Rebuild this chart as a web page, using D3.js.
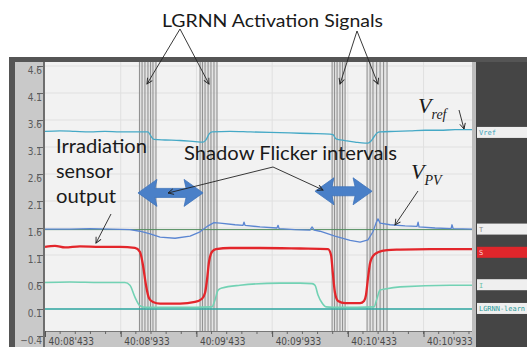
<!DOCTYPE html>
<html><head><meta charset="utf-8">
<script src="https://cdn.jsdelivr.net/npm/d3@7"></script>
<style>
html,body{margin:0;padding:0;background:#fff;}
svg{display:block;}
</style></head><body>
<svg id="chart" width="527" height="347"></svg>
<script>
// ---------------- data ----------------
const xTickValues = [0, 0.5, 1.0, 1.5, 2.0, 2.5];
const xTickLabels = ["40:08'433","40:08'933","40:09'433","40:09'933","40:10'433","40:10'933"];
const yTickValues = [-0.4, 0.1, 0.6, 1.1, 1.6, 2.1, 2.6, 3.1, 3.6, 4.1, 4.6];

const vrefT = [0,0.099,0.198,0.297,0.396,0.495,0.594,0.680,0.700,0.720,0.793,0.892,0.991,1.044,1.063,1.083,1.103,1.222,1.354,1.486,1.618,1.750,1.882,1.902,1.922,1.982,2.048,2.114,2.133,2.153,2.173,2.193,2.213,2.312,2.411,2.510,2.609,2.708,2.820];
const vrefV = [3.39,3.40,3.39,3.38,3.39,3.38,3.38,3.38,3.30,3.24,3.23,3.22,3.20,3.19,3.23,3.34,3.38,3.39,3.38,3.37,3.36,3.35,3.34,3.33,3.25,3.22,3.19,3.17,3.17,3.21,3.29,3.36,3.38,3.39,3.40,3.41,3.41,3.42,3.42];

const vpvT = [0,0.165,0.297,0.429,0.561,0.627,0.694,0.760,0.859,0.958,1.024,1.077,1.116,1.156,1.255,1.308,1.314,1.321,1.420,1.532,1.539,1.546,1.651,1.750,1.764,1.777,1.816,1.915,2.015,2.081,2.133,2.166,2.186,2.199,2.213,2.279,2.378,2.457,2.464,2.470,2.576,2.682,2.688,2.695,2.820];
const vpvV = [1.58,1.58,1.59,1.58,1.57,1.54,1.49,1.43,1.41,1.45,1.53,1.64,1.70,1.69,1.66,1.65,1.71,1.65,1.62,1.60,1.65,1.59,1.57,1.56,1.62,1.56,1.54,1.45,1.37,1.34,1.38,1.53,1.69,1.77,1.69,1.66,1.64,1.63,1.71,1.62,1.60,1.59,1.66,1.59,1.58];

const sT = [0,0.066,0.132,0.231,0.363,0.495,0.594,0.627,0.647,0.667,0.687,0.713,0.760,0.892,0.991,1.037,1.057,1.070,1.083,1.103,1.129,1.222,1.420,1.684,1.869,1.889,1.902,1.915,1.935,1.982,2.081,2.107,2.120,2.133,2.147,2.166,2.199,2.259,2.345,2.543,2.820];
const sV = [1.25,1.27,1.24,1.26,1.25,1.25,1.23,1.16,0.91,0.54,0.30,0.23,0.20,0.20,0.23,0.29,0.40,0.64,0.97,1.16,1.21,1.23,1.23,1.22,1.21,1.10,0.73,0.40,0.25,0.21,0.21,0.25,0.36,0.67,0.95,1.08,1.15,1.19,1.20,1.21,1.21];

const iT = [0,0.165,0.363,0.528,0.561,0.594,0.627,0.667,0.892,1.103,1.123,1.143,1.169,1.288,1.552,1.684,1.764,1.783,1.803,1.830,1.856,1.948,2.173,2.193,2.213,2.246,2.345,2.675,2.820];
const iV = [0.59,0.60,0.59,0.59,0.54,0.32,0.16,0.13,0.13,0.14,0.27,0.45,0.49,0.54,0.58,0.58,0.57,0.54,0.36,0.21,0.14,0.13,0.14,0.30,0.45,0.47,0.51,0.54,0.54];

const tChannelT = [0, 2.82];
const tChannelV = [1.57, 1.57];
const learnT = [0, 2.82];
const learnV = [0.1, 0.1];

const activationBursts = [
  [0.624,0.641,0.660,0.680,0.697,0.713,0.733],
  [1.024,1.040,1.057,1.077,1.096,1.116,1.136],
  [1.896,1.912,1.929,1.948,1.965,1.982],
  [2.127,2.147,2.166,2.190,2.213,2.236,2.259]
];

const channelNames = ["Vref","T","S","I","LGRNN-learn"];
const channelLabelValues = [3.37, 1.58, 1.15, 0.55, 0.11];

// ---------------- layout ----------------
const svg = d3.select("#chart");
const W = 527, H = 347;
const plot = {left:45, right:472, top:62, bottom:331};
const x = d3.scaleLinear().domain([0, 2.82]).range([45, 472]);
const y = d3.scaleLinear().domain([-0.4, 4.6]).range([336, 66]);

const narrow = "'Liberation Sans Narrow','DejaVu Sans Condensed','Arial Narrow',sans-serif";
const annoFont = "Lato, 'Open Sans', sans-serif";

// defs
const defs = svg.append("defs");
defs.append("clipPath").attr("id","pc").append("rect")
  .attr("x",plot.left).attr("y",plot.top).attr("width",plot.right-plot.left).attr("height",plot.bottom-plot.top);
defs.append("marker").attr("id","arr").attr("viewBox","0 0 10 10").attr("refX",9).attr("refY",5)
  .attr("markerWidth",7).attr("markerHeight",7).attr("markerUnits","userSpaceOnUse").attr("orient","auto")
  .append("path").attr("d","M1,1 L9,5 L1,9").attr("fill","none").attr("stroke","#222").attr("stroke-width",1.3);

// frame of the screenshot
svg.append("rect").attr("x",0).attr("y",0).attr("width",W).attr("height",H).attr("fill","#fff");
svg.append("rect").attr("x",9).attr("y",57).attr("width",W-9).attr("height",H-57).attr("fill","#555");
svg.append("rect").attr("x",15).attr("y",62).attr("width",30).attr("height",H-62).attr("fill","#c9c9c9");
svg.append("rect").attr("x",472).attr("y",62).attr("width",4).attr("height",H-62).attr("fill","#bdbdbd");
svg.append("rect").attr("x",476).attr("y",62).attr("width",W-476).attr("height",H-62).attr("fill","#454545");
svg.append("rect").attr("x",plot.left).attr("y",plot.top).attr("width",plot.right-plot.left).attr("height",plot.bottom-plot.top).attr("fill","#f2f2f2");
svg.append("rect").attr("x",44).attr("y",plot.bottom).attr("width",plot.right-44).attr("height",H-plot.bottom).attr("fill","#c6c6c6");

// grid
const grid = svg.append("g").attr("clip-path","url(#pc)");
grid.selectAll("line.h").data(yTickValues).join("line")
  .attr("x1",plot.left).attr("x2",plot.right).attr("y1",d=>y(d)).attr("y2",d=>y(d))
  .attr("stroke","#e0e0e0").attr("stroke-width",1);
grid.selectAll("line.v").data(xTickValues.slice(1)).join("line")
  .attr("y1",plot.top).attr("y2",plot.bottom).attr("x1",d=>x(d)).attr("x2",d=>x(d))
  .attr("stroke","#e0e0e0").attr("stroke-width",1);

// activation bursts
const act = svg.append("g").attr("clip-path","url(#pc)");
activationBursts.forEach(b=>{
  act.append("rect").attr("x",x(b[0])).attr("y",plot.top).attr("width",x(b[b.length-1])-x(b[0])).attr("height",plot.bottom-plot.top)
    .attr("fill","#d6d6d6").attr("opacity",0.5);
  act.selectAll(null).data(b).join("line")
    .attr("x1",d=>x(d)).attr("x2",d=>x(d)).attr("y1",plot.top).attr("y2",plot.bottom)
    .attr("stroke","#929292").attr("stroke-width",1.1);
});

// series
const lines = svg.append("g").attr("clip-path","url(#pc)");
function series(ts, vs, color, w, curve){
  const pts = ts.map((t,i)=>[t, vs[i]]);
  lines.append("path").datum(pts)
    .attr("d", d3.line().x(d=>x(d[0])).y(d=>y(d[1])).curve(curve||d3.curveMonotoneX))
    .attr("fill","none").attr("stroke",color).attr("stroke-width",w).attr("stroke-linejoin","round");
}
series(learnT, learnV, "#2fa7a2", 1.6, d3.curveLinear);
series(tChannelT, tChannelV, "#4f8c5c", 1, d3.curveLinear);
series(iT, iV, "#72d2b4", 1.6);
series(vpvT, vpvV, "#5b86d2", 1.3, d3.curveLinear);
series(vrefT, vrefV, "#45a9c6", 1.3);
series(sT, sV, "#e3262b", 2.3);

// y axis
const ya = svg.append("g").attr("transform","translate(44,0)")
  .call(d3.axisLeft(y).tickValues(yTickValues).tickFormat(d3.format(".1f")).tickSize(6).tickPadding(2));
ya.select(".domain").remove();
ya.selectAll(".tick line").attr("stroke","#666").attr("x2",-1).attr("x1",-7);
ya.selectAll(".tick text").attr("x",-2).attr("dy","0.7em").attr("fill","#5a5a5a")
  .style("font-family",narrow).style("font-size","10px");
svg.append("line").attr("x1",44).attr("x2",44).attr("y1",plot.top).attr("y2",H).attr("stroke","#333").attr("stroke-width",1.2);

// x axis
svg.append("line").attr("x1",44).attr("x2",plot.right).attr("y1",plot.bottom+0.5).attr("y2",plot.bottom+0.5).attr("stroke","#777");
const minor = d3.range(0, 2.81, 0.1);
svg.selectAll("line.mt").data(minor).join("line")
  .attr("x1",d=>x(d)).attr("x2",d=>x(d)).attr("y1",plot.bottom).attr("y2",plot.bottom+3)
  .attr("stroke","#666");
const xa = svg.append("g").attr("transform",`translate(0,${plot.bottom})`)
  .call(d3.axisBottom(x).tickValues(xTickValues).tickFormat((d,i)=>xTickLabels[i]).tickSize(6).tickPadding(0));
xa.select(".domain").remove();
xa.selectAll(".tick line").attr("stroke","#555");
xa.selectAll(".tick text").attr("text-anchor","start").attr("x",3).attr("y",0).attr("dy","13.5px")
  .attr("fill","#4a4a4a").style("font-family",narrow).style("font-size","10px");

// right panel channel labels
const boxes = svg.append("g");
const boxText = ["#3a9fb8","#8a8a8a","#ffd6d6","#6cc0a8","#2a9a9a"];
channelNames.forEach((n,i)=>{
  const cy = y(channelLabelValues[i]);
  boxes.append("rect").attr("x",477).attr("y",cy-5.5).attr("width",50).attr("height",11)
    .attr("fill", n==="S" ? "#e0262b" : "#efefef");
  const t = boxes.append("text").attr("x",479).attr("y",cy+3).text(n)
    .attr("fill",boxText[i]).style("font-family","'DejaVu Sans Mono',monospace").style("font-size","7px");
  if (n.length > 6) t.attr("textLength",46).attr("lengthAdjust","spacingAndGlyphs");
});

// ---------------- annotations ----------------
const anno = svg.append("g");
function txt(s, xx, yy, size, width){
  anno.append("text").attr("x",xx).attr("y",yy).text(s)
    .attr("textLength",width).attr("lengthAdjust","spacingAndGlyphs")
    .style("font-family",annoFont).style("font-weight","400").style("font-size",size+"px").attr("fill","#1a1a1a");
}
txt("LGRNN Activation Signals", 162, 27, 17.5, 221);
txt("Irradiation", 56, 153, 19.5, 91);
txt("sensor", 56, 178, 19.5, 57);
txt("output", 56, 203, 19.5, 60);
txt("Shadow Flicker intervals", 184, 160, 19.5, 213);

function pointer(x1,y1,x2,y2){
  anno.append("line").attr("x1",x1).attr("y1",y1).attr("x2",x2).attr("y2",y2)
    .attr("stroke","#222").attr("stroke-width",0.9).attr("marker-end","url(#arr)");
}
pointer(180,29,147,84); pointer(180,29,209,84);
pointer(357,31,340,84); pointer(357,31,378,84);
pointer(111,214,96,243);

// blue double arrows for shadow flicker intervals
const shadowArrows = [{t0:0.614,t1:1.044,v:2.25},{t0:1.783,t1:2.160,v:2.28}];
shadowArrows.forEach(a=>{
  const x1 = x(a.t0), x2 = x(a.t1), cy = y(a.v);
  const hw = 19, hh = 13.5, sh = 4.5, notch = 4;
  const p = d3.path();
  p.moveTo(x1, cy);
  p.lineTo(x1+hw, cy-hh);
  p.lineTo(x1+hw-notch+2, cy-sh);
  p.lineTo(x2-hw+notch-2, cy-sh);
  p.lineTo(x2-hw, cy-hh);
  p.lineTo(x2, cy);
  p.lineTo(x2-hw, cy+hh);
  p.lineTo(x2-hw+notch-2, cy+sh);
  p.lineTo(x1+hw-notch+2, cy+sh);
  p.lineTo(x1+hw, cy+hh);
  p.closePath();
  anno.append("path").attr("d",p.toString()).attr("fill","#4a80c8").attr("stroke","#3f74bb").attr("stroke-width",0.8);
});
pointer(273,167,168,193);
pointer(273,167,323,190);

// V_ref and V_PV labels
function vlabel(xx, yy, sub){
  const t = anno.append("text").attr("x",xx).attr("y",yy)
    .style("font-family","'Liberation Serif','DejaVu Serif',serif").style("font-style","italic").attr("fill","#1a1a1a");
  t.append("tspan").text("V").style("font-size","22px");
  t.append("tspan").text(sub).attr("dy",6).style("font-size","14px");
}
vlabel(418, 113, "ref");
pointer(459,110,464,129);
vlabel(411, 179, "PV");
pointer(418,191,395,225);
</script>
</body></html>
